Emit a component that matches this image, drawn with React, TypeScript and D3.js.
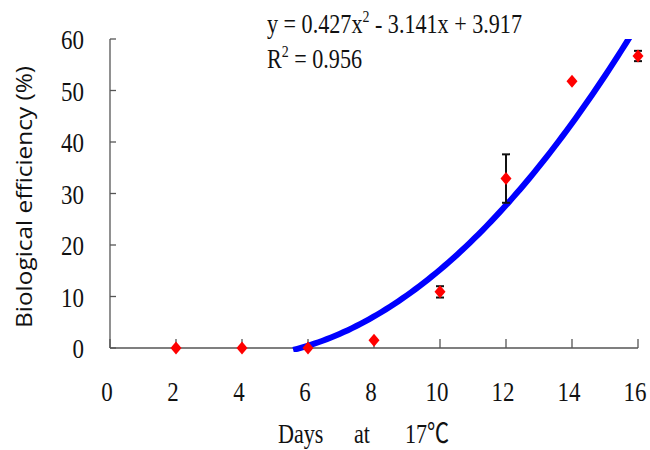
import React from "react";
import * as d3 from "d3";

const days = [2, 4, 6, 8, 10, 12, 14, 16];
const efficiency = [0, 0, 0, 1.5, 10.9, 32.9, 51.8, 56.7];
const errors = [0, 0, 0, 0, 1.1, 4.7, 0, 1.0];
const xTicks = [0, 2, 4, 6, 8, 10, 12, 14, 16];
const yTicks = [0, 10, 20, 30, 40, 50, 60];
const coef = [0.427, -3.141, 3.917];
const fitStart = 5.55;
const fitEnd = 15.76;

const W = 650;
const H = 450;
const left = 110;
const right = 638;
const top = 39;
const bottom = 348;

const serif = "'Liberation Serif', 'Times New Roman', serif";
const sx = 0.82;

export default function App() {
  const x = d3.scaleLinear().domain([0, 16]).range([left, right]);
  const y = d3.scaleLinear().domain([0, 60]).range([bottom, top]);
  const fit = (t: number) => coef[0] * t * t + coef[1] * t + coef[2];
  const steps = 80;
  const pts: [number, number][] = d3
    .range(steps + 1)
    .map((i) => fitStart + ((fitEnd - fitStart) * i) / steps)
    .map((t) => [t, fit(t)]);
  const line = d3
    .line<[number, number]>()
    .x((d) => x(d[0]))
    .y((d) => y(d[1]));

  const diamond = (cx: number, cy: number) =>
    `M${cx},${cy - 6.5}L${cx + 5.5},${cy}L${cx},${cy + 6.5}L${cx - 5.5},${cy}Z`;

  return (
    <svg
      width={W}
      height={H}
      style={{ position: "absolute", left: 0, top: 0, background: "#fff" }}
    >
      <defs>
        <clipPath id="plot">
          <rect x={left - 5} y={top} width={right - left + 20} height={bottom - top + 4} />
        </clipPath>
      </defs>
      {/* axes */}
      <line x1={left} y1={top} x2={left} y2={bottom} stroke="#555" strokeWidth={1.3} />
      <line x1={left} y1={bottom} x2={right} y2={bottom} stroke="#555" strokeWidth={1.3} />
      {yTicks.map((t) => (
        <line key={"yt" + t} x1={left} x2={left + 6} y1={y(t)} y2={y(t)} stroke="#555" strokeWidth={1.3} />
      ))}
      {xTicks.map((t) => (
        <line key={"xt" + t} x1={x(t)} x2={x(t)} y1={bottom} y2={bottom - 9} stroke="#555" strokeWidth={1.3} />
      ))}
      {yTicks.map((t) => (
        <text
          key={"yl" + t}
          transform={`translate(${left - 26},${y(t) + 10}) scale(${sx},1)`}
          textAnchor="end"
          fontFamily={serif}
          fontSize={28}
          fill="#111"
        >
          {t}
        </text>
      ))}
      {xTicks.map((t) => (
        <text
          key={"xl" + t}
          transform={`translate(${x(t) - 3},${bottom + 53}) scale(${sx},1)`}
          textAnchor="middle"
          fontFamily={serif}
          fontSize={28}
          fill="#111"
        >
          {t}
        </text>
      ))}
      {/* fitted curve */}
      <path
        d={line(pts) || ""}
        fill="none"
        stroke="#0000ff"
        strokeWidth={6}
        clipPath="url(#plot)"
      />
      {/* error bars */}
      {days.map((d, i) =>
        errors[i] > 0 ? (
          <g key={"e" + d} stroke="#111" strokeWidth={2}>
            <line x1={x(d)} x2={x(d)} y1={y(efficiency[i] - errors[i])} y2={y(efficiency[i] + errors[i])} />
            <line x1={x(d) - 4} x2={x(d) + 4} y1={y(efficiency[i] - errors[i])} y2={y(efficiency[i] - errors[i])} />
            <line x1={x(d) - 4} x2={x(d) + 4} y1={y(efficiency[i] + errors[i])} y2={y(efficiency[i] + errors[i])} />
          </g>
        ) : null
      )}
      {/* points */}
      {days.map((d, i) => (
        <path key={"p" + d} d={diamond(x(d), y(efficiency[i]))} fill="#ff0000" />
      ))}
      {/* equation */}
      <text
        transform={`translate(267,33) scale(${sx},1)`}
        fontFamily={serif}
        fontSize={27}
        fill="#111"
      >
        y = 0.427x
        <tspan fontSize={17} dy={-11}>2</tspan>
        <tspan dy={11}> - 3.141x + 3.917</tspan>
      </text>
      <text
        transform={`translate(267,68) scale(${sx},1)`}
        fontFamily={serif}
        fontSize={27}
        fill="#111"
      >
        R
        <tspan fontSize={17} dy={-11}>2</tspan>
        <tspan dy={11}> = 0.956</tspan>
      </text>
      {/* axis titles */}
      <text
        transform={`translate(32,197) rotate(-90)`}
        textAnchor="middle"
        fontFamily="'Open Sans', 'Liberation Sans', sans-serif"
        fontSize={21}
        textLength={262}
        lengthAdjust="spacingAndGlyphs"
        fill="#111"
      >
        Biological efficiency (%)
      </text>
      <g fontFamily={`${serif}, 'Noto Sans CJK SC'`} fontSize={27} fill="#111">
        <text transform={`translate(278,443) scale(${sx},1)`}>Days</text>
        <text transform={`translate(354,443) scale(${sx},1)`}>at</text>
        <text transform={`translate(405,443) scale(${sx},1)`}>17℃</text>
      </g>
    </svg>
  );
}
